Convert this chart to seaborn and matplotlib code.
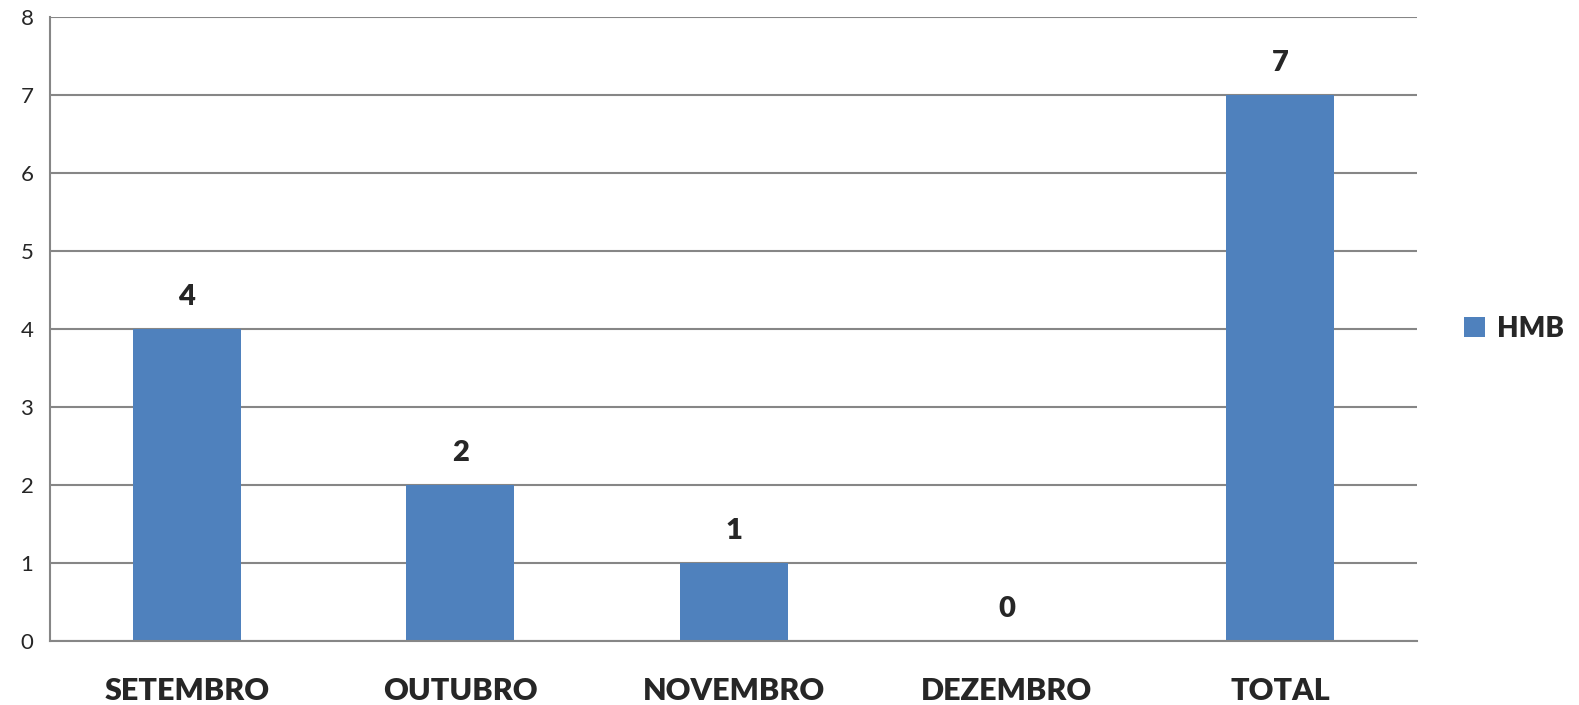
import pandas as pd
import numpy as np
import matplotlib.pyplot as plt
import seaborn as sns

# data
meses = ['SETEMBRO', 'OUTUBRO', 'NOVEMBRO', 'DEZEMBRO', 'TOTAL']
hmb = [4, 2, 1, 0, 7]
serie = 'HMB'

df = pd.DataFrame({'Mes': meses, 'Valor': hmb, 'Serie': serie})

sns.set_style('white')
plt.rcParams['font.family'] = ['Lato', 'DejaVu Sans']

grid_color = '#868686'
bar_color = '#4F81BD'
peso = 'heavy'

fig = plt.figure(figsize=(15.79, 7.05), dpi=100)
ax = fig.add_axes([0.0317, 0.0908, 0.8657, 0.8851])

sns.barplot(data=df, x='Mes', y='Valor', hue='Serie', palette=[bar_color],
            width=0.395, ax=ax, saturation=1, legend=True, linewidth=0)

ax.set_ylim(0, 8)
ax.set_xlim(-0.5, len(meses) - 0.5)
ax.set_yticks(range(0, 9))
ax.yaxis.grid(True, color=grid_color, linewidth=1.5)
ax.set_axisbelow(True)

for s in ['top', 'right']:
    ax.spines[s].set_visible(False)
for s in ['left', 'bottom']:
    ax.spines[s].set_color(grid_color)
    ax.spines[s].set_linewidth(1.5)

ax.tick_params(axis='y', length=6, width=1.5, color=grid_color, pad=6, labelsize=16)
# category separators as minor ticks, labels on the major ones
ax.set_xticks(np.arange(-0.5, len(meses) + 0.5, 1), minor=True)
ax.tick_params(axis='x', which='minor', length=6, width=1.5, color=grid_color)
ax.tick_params(axis='x', which='major', length=0, pad=26, labelsize=22)
for lab in ax.get_xticklabels():
    lab.set_fontweight(peso)
ax.set_xlabel('')
ax.set_ylabel('')

for i, v in enumerate(hmb):
    ax.annotate(str(v), (i, v), xytext=(0, 14), textcoords='offset points',
                ha='center', va='bottom', fontsize=21, fontweight=peso)

leg = ax.legend(loc='center left', bbox_to_anchor=(1.018, 0.5), frameon=False,
                prop={'size': 20, 'weight': peso}, handlelength=0.75,
                handleheight=0.75, handletextpad=0.45, borderpad=0.3)

fig.savefig('out.png', dpi=100)
